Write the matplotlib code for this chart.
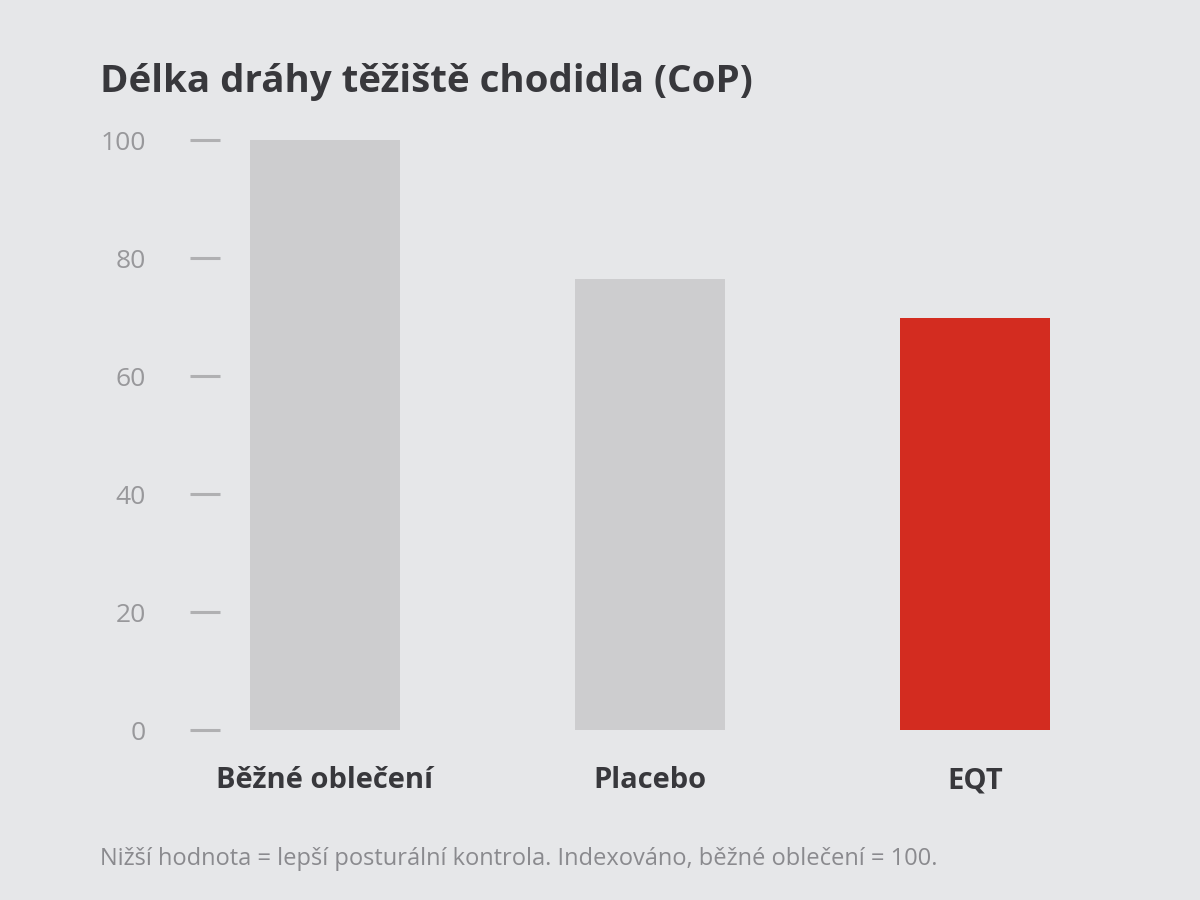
import matplotlib.pyplot as plt

categories = ['Běžné oblečení', 'Placebo', 'EQT']
values = [100, 76.5, 69.8]
colors = ['#cdcdcf', '#cdcdcf', '#d32c20']
yticks = [0, 20, 40, 60, 80, 100]

plt.rcParams['font.family'] = ['Open Sans', 'DejaVu Sans']

bg = '#e6e7e9'
fig = plt.figure(figsize=(12, 9), dpi=100, facecolor=bg)
ax = fig.add_axes([220 / 1200, 170 / 900, 860 / 1200, 590 / 900], facecolor=bg)

x = list(range(len(categories)))
ax.bar(x, values, width=150 / 325, color=colors)
ax.set_xlim(-105 / 325, 2 + 105 / 325)
ax.set_ylim(0, 100)

for s in ax.spines.values():
    s.set_visible(False)

ax.set_yticks(yticks)
ax.set_yticklabels([str(v) for v in yticks])
ax.tick_params(axis='y', length=21.6, width=2.2, color='#b0b0b2', pad=32,
               labelsize=19, labelcolor='#98989b')
for lab in ax.get_yticklabels():
    lab.set_y(lab.get_position()[1])
ax.set_xticks(x)
ax.set_xticklabels(categories, fontweight='bold')
ax.tick_params(axis='x', length=0, pad=26, labelsize=21, labelcolor='#38383c')

fig.text(100 / 1200, 1 - 92 / 900, 'Délka dráhy těžiště chodidla (CoP)',
         fontsize=27.7, fontweight='bold', color='#38383c', va='baseline')
fig.text(100 / 1200, 1 - 865 / 900,
         'Nižší hodnota = lepší posturální kontrola. Indexováno, běžné oblečení = 100.',
         fontsize=17, color='#8a8a8e', va='baseline')

fig.savefig('out.png', dpi=100, facecolor=bg)
